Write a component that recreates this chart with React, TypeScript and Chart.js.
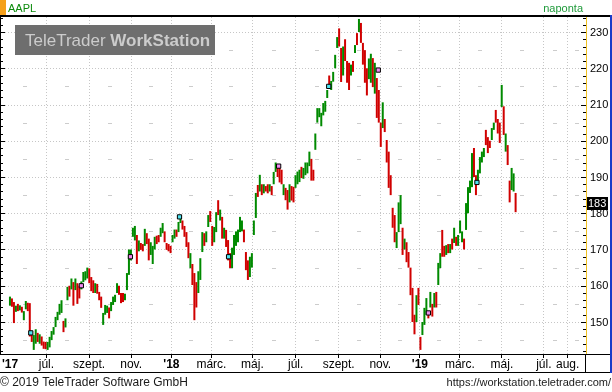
import React, { useEffect, useRef } from 'react';
import { Chart, registerables } from 'chart.js';

Chart.register(...registerables);

// ---- data: 2-trading-day high/low bars of AAPL (May 2017 – May 2019) ----
const lows = [
  154.5, 154.2, 149.7, 152.8, 153.0, 153.2, 152.6, 150.5, 153.5, 153.0,
  146.0, 144.5, 142.3, 144.0, 144.5, 144.0, 143.5, 142.6, 142.5, 142.3,
  143.0, 145.0, 146.5, 148.6, 150.5, 152.0, 152.5, 147.2, 148.5, 156.0,
  157.0, 159.0, 154.5, 158.8, 155.0, 156.5, 159.0, 161.0, 161.5, 162.0,
  160.7, 158.5, 158.0, 158.0, 157.8, 156.0, 153.9, 149.2, 152.0, 152.5,
  151.0, 153.0, 154.7, 155.5, 158.0, 157.5, 155.2, 155.5, 156.0, 158.8,
  163.0, 167.0, 173.5, 172.5, 166.0, 169.5, 169.9, 169.5, 171.0, 171.5,
  167.0, 168.5, 166.0, 170.0, 171.5, 172.0, 173.5, 174.5, 172.0, 169.9,
  169.5, 169.0, 172.0, 173.0, 173.5, 174.8, 177.3, 175.5, 173.5, 170.7,
  167.6, 164.9, 160.2, 150.5, 154.0, 158.0, 161.6, 169.3, 171.0, 172.0,
  176.2, 177.6, 171.0, 172.0, 174.8, 179.5, 178.0, 173.0, 173.0, 170.7,
  167.0, 164.9, 164.9, 168.5, 171.0, 172.0, 174.8, 175.0, 172.0, 164.3,
  161.6, 162.4, 165.0, 174.0, 178.7, 184.5, 186.0, 185.0, 185.5, 186.0,
  185.5, 186.0, 185.0, 188.0, 191.4, 190.0, 188.5, 188.0, 185.0, 183.6,
  181.0, 183.0, 183.5, 183.0, 187.0, 188.0, 188.6, 189.7, 189.5, 190.5,
  191.0, 193.0, 189.0, 189.0, 197.5, 205.0, 206.5, 204.0, 207.0, 208.0,
  211.8, 214.5, 214.0, 216.3, 220.0, 225.6, 226.0, 216.2, 218.0, 222.0,
  216.0, 214.0, 218.0, 219.0, 224.2, 226.4, 230.0, 227.0, 221.0, 216.0,
  212.5, 217.0, 216.0, 214.8, 213.0, 206.3, 205.0, 198.3, 203.5, 202.4,
  194.0, 187.0, 185.0, 176.0, 172.0, 170.4, 174.8, 177.0, 168.5, 170.0,
  166.5, 165.0, 157.4, 150.0, 146.6, 150.0, 154.7, 142.3, 146.4, 149.2,
  152.0, 151.0, 154.0, 151.5, 154.0, 154.0, 160.2, 164.9, 168.0, 168.0,
  168.5, 169.0, 169.0, 170.0, 171.8, 171.0, 171.0, 174.5, 172.0, 170.0,
  175.4, 180.0, 185.6, 187.2, 190.0, 185.0, 189.0, 191.0, 194.0, 195.5,
  198.8, 196.6, 198.0, 200.2, 203.0, 205.0, 202.0, 199.4, 209.3, 201.6,
  197.0, 193.3, 183.0, 186.4, 186.0, 180.3,
];

const highs = [
  157.0, 156.5, 155.5, 154.5, 155.0, 154.6, 154.2, 153.0, 155.8, 155.3,
  155.2, 147.5, 146.4, 148.0, 147.0, 146.6, 146.0, 144.6, 144.5, 144.5,
  145.9, 147.5, 148.6, 151.4, 152.8, 155.0, 156.0, 150.3, 151.0, 159.7,
  160.0, 162.0, 161.0, 162.0, 160.7, 160.0, 161.2, 163.8, 164.0, 165.0,
  164.8, 162.4, 161.5, 160.7, 160.5, 158.3, 157.0, 152.5, 154.7, 154.5,
  154.0, 155.5, 157.0, 157.5, 160.7, 160.0, 158.0, 158.0, 157.8, 163.5,
  170.0, 170.0, 176.0, 176.5, 174.0, 172.5, 171.8, 171.5, 175.7, 174.5,
  173.0, 172.0, 171.0, 173.5, 173.8, 174.0, 176.0, 177.3, 175.0, 171.8,
  171.5, 171.0, 174.0, 175.5, 175.5, 177.6, 179.5, 178.0, 176.5, 174.8,
  172.0, 169.0, 166.0, 163.5, 161.0, 164.0, 167.6, 174.8, 174.5, 175.0,
  179.5, 180.6, 176.5, 176.2, 180.3, 183.6, 181.0, 179.0, 176.0, 175.4,
  172.6, 169.0, 170.5, 174.0, 175.0, 175.5, 179.0, 178.0, 175.5, 169.3,
  167.0, 168.0, 169.0, 178.0, 185.6, 187.8, 190.6, 188.0, 188.0, 187.5,
  188.0, 188.0, 187.5, 191.4, 194.0, 193.5, 192.5, 192.0, 188.0, 187.0,
  186.4, 188.0, 187.5, 187.3, 190.5, 191.5, 192.0, 192.8, 192.5, 194.0,
  194.0, 197.0, 195.0, 192.0, 202.0, 209.0, 209.0, 207.7, 210.4, 211.0,
  214.0, 218.0, 216.5, 219.0, 223.7, 228.6, 231.0, 225.6, 226.0, 228.0,
  222.0, 221.5, 221.0, 222.0, 226.4, 229.7, 233.6, 232.5, 227.0, 225.0,
  220.0, 222.7, 224.0, 222.8, 221.5, 217.3, 214.0, 205.0, 210.6, 206.0,
  200.2, 197.0, 190.5, 181.5, 179.5, 174.8, 183.0, 185.0, 176.0, 173.0,
  172.0, 169.3, 165.0, 159.4, 152.0, 157.4, 159.4, 145.9, 150.0, 153.9,
  156.6, 153.0, 158.3, 155.0, 158.0, 158.3, 166.3, 169.0, 175.4, 171.0,
  171.2, 171.5, 171.5, 173.0, 176.0, 173.5, 174.0, 178.0, 175.0, 173.0,
  182.8, 187.2, 189.0, 196.6, 198.0, 190.5, 192.0, 195.5, 197.0, 198.0,
  203.0, 201.0, 200.0, 203.5, 205.0, 208.5, 206.0, 205.0, 215.4, 209.5,
  202.0, 198.8, 189.0, 192.5, 191.0, 185.6,
];

// G = up bar, R = down bar
const directions =
  'GRRGRGRGGR' + 'RRGGRGRRRG' + 'GGGGGGGRGG' + 'RGRGRRGGGG' + 'RRRGRRRGGG' +
  'RGGGGRRRGG' + 'GGGGRGRRGR' + 'RGGGRRGGRR' + 'RRGGRGGRRR' + 'RGRRRGGGRG' +
  'GRRGGRGRGR' + 'RRGGGGGGRR' + 'RGGGGRGRGR' + 'RGRGGRRRGR' + 'RGRRGGGRGG' +
  'GGRRGGGGGG' + 'GRGGGGRRGR' + 'RRGRGRGRRR' + 'RGGRGRRRGR' + 'RRRRRGGGRG' +
  'RRRRRGRRGG' + 'GRGRGRGGRR' + 'GRGRGRGGGR' + 'GGGGRRGGGG' + 'RRRGGRRRGR' +
  'GRRGGR';

const lastPrice = 183;

// event markers (bar index, price, colour kind)
const markerBars = [10.5, 36, 60.75, 85.5, 110.25, 135.5, 160.75, 185.75, 211, 235.5];
const markerPrices = [147.0, 160.0, 168.0, 179.0, 168.0, 193.0, 215.0, 219.5, 152.5, 188.5];
const markerKinds = ['c', 'p', 'p', 'c', 'c', 'p', 'c', 'p', 'p', 'c'];

// axis ticks
const yTicks = [150, 160, 170, 180, 190, 200, 210, 220, 230];
const xTickBars = [18.15, 39.65, 60.85, 81.15, 101.35, 122, 143.85, 165.5, 186.5, 206.5, 226.65, 247.85, 269, 281];
const xTickLabels = ['júl.', 'szept.', 'nov.', "'18", 'márc.', 'máj.', 'júl.', 'szept.', 'nov.', "'19", 'márc.', 'máj.', 'júl.', 'aug.'];
const firstYearLabel = "'17";

const UP = '#008a00';
const DOWN = '#d00000';
const FONT = '"Liberation Sans", Arial, sans-serif';

const framePlugin = {
  id: 'frame',
  beforeDraw(chart: any) {
    const { ctx, width, height } = chart;
    ctx.save();
    ctx.fillStyle = '#ffffff';
    ctx.fillRect(0, 0, width, height);
    ctx.restore();
  },
  beforeDatasetsDraw(chart: any) {
    const { ctx, chartArea: a } = chart;
    const x = chart.scales.x;
    const y = chart.scales.y;
    ctx.save();
    // dotted grid
    ctx.strokeStyle = '#c6c6c6';
    ctx.lineWidth = 1;
    ctx.setLineDash([1, 2]);
    xTickBars.forEach((b) => {
      const px = Math.round(x.getPixelForValue(b)) + 0.5;
      ctx.beginPath();
      ctx.moveTo(px, a.top);
      ctx.lineTo(px, a.bottom);
      ctx.stroke();
    });
    yTicks.forEach((v) => {
      const py = Math.round(y.getPixelForValue(v)) + 0.5;
      ctx.beginPath();
      ctx.moveTo(a.left, py);
      ctx.lineTo(a.right, py);
      ctx.stroke();
    });
    ctx.setLineDash([]);
    // minor dashes at half steps
    const cols = [a.left, ...xTickBars.map((b) => x.getPixelForValue(b)), a.right];
    const mids: number[] = [];
    for (let i = 1; i < cols.length; i++) mids.push((cols[i - 1] + cols[i]) / 2);
    ctx.fillStyle = '#cccccc';
    yTicks.forEach((v) => {
      const py = Math.round(y.getPixelForValue(v - 5));
      if (py < a.top || py > a.bottom) return;
      mids.forEach((m) => ctx.fillRect(Math.round(m) - 2, py, 4, 1));
    });
    // watermark
    ctx.fillStyle = '#6e6e6e';
    ctx.fillRect(15, 25, 200, 30);
    ctx.fillStyle = '#cccccc';
    ctx.textBaseline = 'alphabetic';
    ctx.textAlign = 'left';
    ctx.font = `17px ${FONT}`;
    const t1 = 'TeleTrader ';
    ctx.fillText(t1, 25, 46);
    const w1 = ctx.measureText(t1).width;
    ctx.font = `bold 17px ${FONT}`;
    ctx.fillText('WorkStation', 25 + w1, 46);
    ctx.restore();
  },
  afterDraw(chart: any) {
    const { ctx, chartArea: a, width } = chart;
    const x = chart.scales.x;
    const y = chart.scales.y;
    ctx.save();
    // top header
    ctx.fillStyle = '#f5a01a';
    ctx.fillRect(0, 0, 6, 15);
    ctx.fillStyle = '#000000';
    ctx.fillRect(0, 15, width, 2);
    ctx.font = `11px ${FONT}`;
    ctx.textBaseline = 'alphabetic';
    ctx.fillStyle = '#0b8a0b';
    ctx.textAlign = 'left';
    ctx.fillText('AAPL', 8, 12);
    ctx.fillStyle = '#1f9a3a';
    ctx.textAlign = 'right';
    ctx.fillText('naponta', 583, 12);

    // left border & ticks
    ctx.fillStyle = '#000000';
    ctx.fillRect(0, a.top, 1, a.bottom - a.top);
    for (let v = 142; v <= 234; v += 2) {
      const py = Math.round(y.getPixelForValue(v));
      if (py < a.top || py > a.bottom) continue;
      const len = v % 10 === 0 ? 5 : 3;
      ctx.fillRect(0, py, len, 1);
      ctx.fillRect(a.right - len, py, len, 1);
    }
    // right axis yellow line
    ctx.fillStyle = '#f0c020';
    ctx.fillRect(a.right, a.top, 1, a.bottom - a.top);
    // y labels
    ctx.fillStyle = '#000000';
    ctx.font = `11px ${FONT}`;
    ctx.textAlign = 'left';
    ctx.textBaseline = 'middle';
    yTicks.forEach((v) => {
      ctx.fillText(String(v), 590, y.getPixelForValue(v) + 0.5);
    });
    // last price box
    const lp = Math.round(y.getPixelForValue(lastPrice));
    ctx.fillStyle = '#000000';
    ctx.fillRect(587, lp - 5, 21, 13);
    ctx.fillStyle = '#ffffff';
    ctx.fillText(String(lastPrice), 588, lp + 1.5);

    // bottom axis band
    ctx.fillStyle = '#000000';
    ctx.fillRect(0, a.bottom, 610, 1);
    ctx.fillRect(0, a.bottom + 18, 610, 1);
    ctx.fillRect(a.right - 1, a.bottom, 1, 19);
    xTickBars.forEach((b) => {
      const px = Math.round(x.getPixelForValue(b));
      ctx.fillRect(px, a.bottom + 1, 1, 3);
    });
    ctx.textBaseline = 'middle';
    ctx.textAlign = 'left';
    ctx.font = `bold 12px ${FONT}`;
    ctx.fillText(firstYearLabel, 2, a.bottom + 10.5);
    ctx.textAlign = 'center';
    xTickBars.forEach((b, i) => {
      const lbl = xTickLabels[i];
      ctx.font = lbl.startsWith("'") ? `bold 12px ${FONT}` : `12px ${FONT}`;
      ctx.fillText(lbl, x.getPixelForValue(b) + 0.5, a.bottom + 10.5);
    });

    // blue right edge
    ctx.fillStyle = '#1a3cc8';
    ctx.fillRect(610, 15, 2, a.bottom + 19 - 15);

    // footer
    ctx.fillStyle = '#1a1a1a';
    ctx.textBaseline = 'middle';
    ctx.textAlign = 'left';
    ctx.font = `12px ${FONT}`;
    ctx.fillText('© 2019 TeleTrader Software GmbH', 0, 382.5);
    ctx.textAlign = 'right';
    ctx.font = `11px ${FONT}`;
    ctx.fillText('https://workstation.teletrader.com/', 611, 382.5);
    ctx.restore();
  },
};

export default function App() {
  const ref = useRef<HTMLCanvasElement | null>(null);
  useEffect(() => {
    if (!ref.current) return;
    const barData = lows.map((l, k) => ({ x: k, y: [l, highs[k]] }));
    const barColors = directions.split('').map((d) => (d === 'G' ? UP : DOWN));
    const markers = markerBars.map((b, i) => ({ x: b, y: markerPrices[i] }));
    const markerColors = markerKinds.map((k) => (k === 'c' ? '#4fe3f0' : '#f08cf0'));
    const chart = new Chart(ref.current, {
      type: 'bar',
      data: {
        datasets: [
          {
            type: 'bar',
            data: barData as any,
            backgroundColor: barColors,
            borderWidth: 0,
            barThickness: 2,
            inflateAmount: 0,
            grouped: false,
            order: 2,
          } as any,
          {
            type: 'scatter',
            data: markers,
            pointStyle: 'rect',
            pointRadius: 3,
            pointBackgroundColor: markerColors,
            pointBorderColor: '#000000',
            pointBorderWidth: 1,
            order: 1,
          } as any,
        ],
      },
      options: {
        responsive: false,
        animation: false,
        events: [],
        layout: { padding: { left: 0, right: 26, top: 17, bottom: 38 } },
        plugins: { legend: { display: false }, tooltip: { enabled: false } },
        scales: {
          x: { type: 'linear', min: -2.5, max: 290.5, display: false, offset: false },
          y: { type: 'linear', min: 141.17, max: 234.14, display: false },
        },
      } as any,
      plugins: [framePlugin],
    });
    return () => chart.destroy();
  }, []);
  return (
    <div style={{ position: 'fixed', left: 0, top: 0, width: 612, height: 392 }}>
      <canvas ref={ref} width={612} height={392} style={{ display: 'block' }} />
    </div>
  );
}
